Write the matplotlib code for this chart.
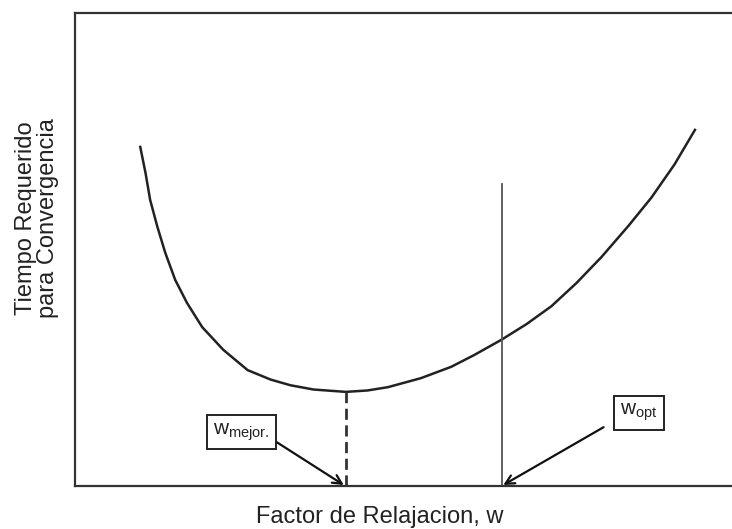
import numpy as np
from matplotlib import pyplot as plt

plt.rcParams["font.family"] = ["Liberation Sans", "DejaVu Sans"]
plt.rcParams["mathtext.fontset"] = "custom"
plt.rcParams["mathtext.rm"] = "Liberation Sans"
plt.rcParams["mathtext.it"] = "Liberation Sans"

# curve (w in arbitrary units 0..10, time 0..10)
w = np.array([0.99, 1.07, 1.14, 1.25, 1.37, 1.52, 1.70, 1.93, 2.25, 2.62, 2.97,
              3.27, 3.62, 4.11, 4.44, 4.75, 5.25, 5.71, 6.06, 6.47, 6.85,
              7.23, 7.61, 7.99, 8.40, 8.75, 9.10, 9.41])
t = np.array([7.17, 6.62, 6.05, 5.48, 4.93, 4.36, 3.87, 3.36, 2.88, 2.45, 2.25,
              2.13, 2.04, 1.99, 2.02, 2.09, 2.28, 2.52, 2.77, 3.09, 3.42,
              3.80, 4.29, 4.84, 5.50, 6.10, 6.80, 7.53])

w_mejor = 4.11
t_mejor = 1.99
w_opt = 6.48
t_opt_top = 6.38

fig = plt.figure(figsize=(7.32, 5.29), dpi=100)
ax = fig.add_axes([0.1025, 0.0813, 0.9, 0.894])
ax.plot(w, t, color="#222222", lw=1.8, solid_joinstyle="round")
ax.plot([w_mejor, w_mejor], [0, t_mejor], color="#333333", lw=2.0, dashes=(4, 2))
ax.plot([w_opt, w_opt], [0, t_opt_top], color="#555555", lw=1.3)

ax.set_xlim(0, 10)
ax.set_ylim(0, 10)
ax.set_xticks([])
ax.set_yticks([])
for s in ["left", "top", "bottom"]:
    ax.spines[s].set_color("#333333")
    ax.spines[s].set_linewidth(1.6)
ax.spines["right"].set_visible(False)

box = dict(boxstyle="square,pad=0.3", fc="white", ec="#222222", lw=1.4)
ax.annotate(r"w$_{\mathrm{mejor.}}$", xy=(w_mejor - 0.03, 0.02), xytext=(2.52, 1.14),
            fontsize=15, ha="center", va="center", bbox=box, color="#222222",
            arrowprops=dict(arrowstyle="->", color="#111111", lw=1.6, mutation_scale=16,
                            relpos=(1.0, 0.25), shrinkA=0, shrinkB=0))
ax.annotate(r"w$_{\mathrm{opt}}$", xy=(w_opt + 0.02, 0.02), xytext=(8.56, 1.55),
            fontsize=15, ha="center", va="center", bbox=box, color="#222222",
            arrowprops=dict(arrowstyle="->", color="#111111", lw=1.6, mutation_scale=16,
                            relpos=(0.0, 0.27), shrinkA=8, shrinkB=0))

fig.text(380 / 732, 1 - 517 / 529, "Factor de Relajacion, w", fontsize=17,
         ha="center", va="center", color="#222222")
fig.text(37 / 732, 1 - 218 / 529, "Tiempo Requerido\npara Convergencia", fontsize=17,
         ha="center", va="center", rotation=90, linespacing=1.0, color="#222222")

fig.savefig("out.png", dpi=100)
